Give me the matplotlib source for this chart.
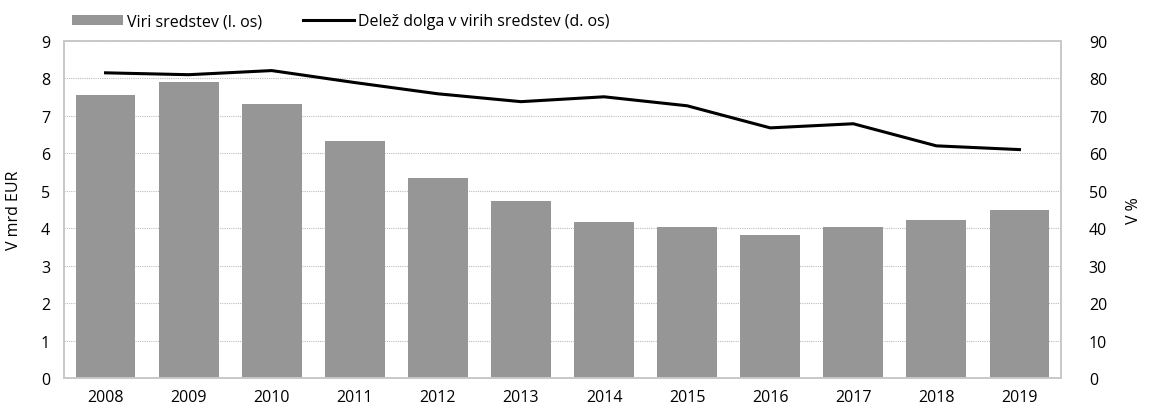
import matplotlib
matplotlib.use("Agg")
import matplotlib.pyplot as plt
from matplotlib.lines import Line2D
from matplotlib.patches import Patch

plt.rcParams['font.family'] = ['Open Sans', 'DejaVu Sans']

years = ['2008', '2009', '2010', '2011', '2012', '2013', '2014', '2015', '2016', '2017', '2018', '2019']
viri_sredstev = [7.56, 7.91, 7.32, 6.34, 5.35, 4.73, 4.17, 4.04, 3.82, 4.04, 4.22, 4.49]
delez_dolga = [81.5, 81.0, 82.1, 78.9, 75.9, 73.8, 75.1, 72.7, 66.8, 67.9, 62.0, 61.0]

fig = plt.figure(figsize=(11.64, 4.10), dpi=100)
ax = fig.add_axes([64/1164, 1 - 379/410, (1061-64)/1164, (379-42)/410])
ax2 = ax.twinx()

x = list(range(len(years)))
ax.bar(x, viri_sredstev, width=0.72, color='#969696', zorder=2)
ax2.plot(x, delez_dolga, color='black', lw=2.2, zorder=3)

ax.set_xlim(-0.5, len(years) - 0.5)
ax.set_ylim(0, 9)
ax2.set_ylim(0, 90)
ax.set_yticks(range(0, 10))
ax2.set_yticks(range(0, 100, 10))
ax.set_xticks(x)
ax.set_xticklabels(years)

ax.grid(axis='y', color='#bdbdbd', linestyle=(0, (1, 1)), lw=0.8, zorder=0)
ax.set_axisbelow(True)

for a in (ax, ax2):
    for s in a.spines.values():
        s.set_color('#c8c8c8')
        s.set_linewidth(1.2)
    a.tick_params(length=0, labelsize=11.5, colors='black')
ax.tick_params(axis='y', pad=10)
ax2.tick_params(axis='y', pad=20)
ax.tick_params(axis='x', pad=8)

ax.set_ylabel('V mrd EUR', fontsize=11.5, labelpad=14)
ax2.set_ylabel('V %', fontsize=11.5, labelpad=14)

handles = [Patch(facecolor='#969696', edgecolor='none'),
           Line2D([0], [0], color='black', lw=2.2)]
labels = ['Viri sredstev (l. os)', 'Delež dolga v virih sredstev (d. os)']
fig.legend(handles, labels, loc='upper left', bbox_to_anchor=(58/1164, 1.0),
           ncol=2, frameon=False, fontsize=11.5, handlelength=3.2,
           handleheight=0.6, handletextpad=0.2, columnspacing=2.6)

fig.savefig('out.png', dpi=100)
